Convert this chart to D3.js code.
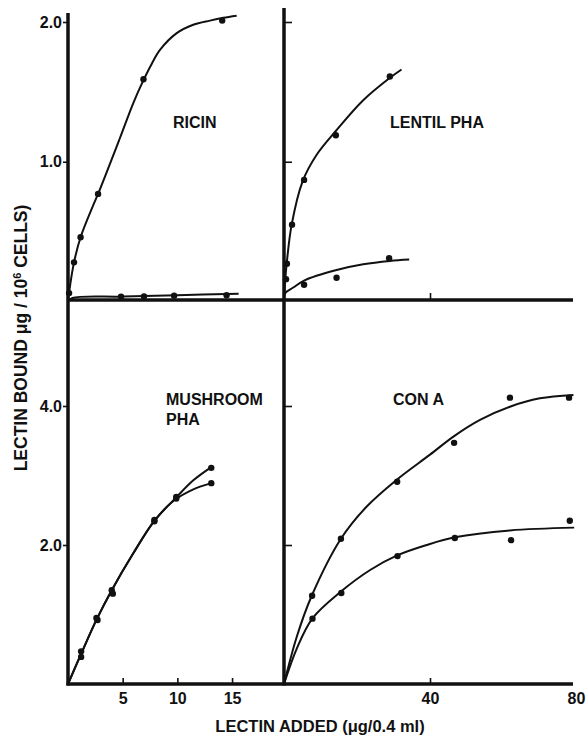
<!DOCTYPE html>
<html>
<head>
<meta charset="utf-8">
<script src="https://cdn.jsdelivr.net/npm/d3@7"></script>
<style>
    body { margin: 0; background: #fff; }
    text { font-family: "Liberation Sans", Arial, sans-serif; font-weight: bold; fill: #111; }
</style>
</head>
<body>
<div id="container"></div>
<script>
// ---- data ----
// RICIN (upper and lower series), x = lectin added (ug/0.4 ml), y = lectin bound
const ricinX = [0.1, 0.55, 1.15, 2.75, 6.9, 14.1]
const ricinY = [0.06, 0.28, 0.46, 0.77, 1.59, 2.01]
const ricinLowX = [4.85, 6.95, 9.7, 14.5]
const ricinLowY = [0.035, 0.037, 0.042, 0.045]
const ricinFitX = [0, 0.2, 0.55, 1.15, 2.31, 2.75, 4.75, 5.97, 6.88, 7.65, 8.41, 9.94, 11.45, 12.98, 14.2, 15.42]
const ricinFitY = [0, 0.12, 0.28, 0.46, 0.69, 0.77, 1.17, 1.42, 1.58, 1.70, 1.80, 1.92, 1.98, 2.01, 2.03, 2.045]
const ricinLowFitX = [0, 0.4, 5, 10, 15.6]
const ricinLowFitY = [0, 0.025, 0.035, 0.045, 0.055]

// LENTIL PHA
const lentilX = [0.8, 2.2, 5.5, 14.2, 29.0]
const lentilY = [0.27, 0.55, 0.87, 1.19, 1.61]
const lentilLowX = [0.55, 5.5, 14.4, 28.8]
const lentilLowY = [0.16, 0.12, 0.17, 0.31]
const lentilFitX = [0, 0.3, 0.73, 2.1, 5.1, 8.95, 14.2, 21.7, 29.0, 32.2]
const lentilFitY = [0, 0.14, 0.27, 0.55, 0.86, 1.05, 1.22, 1.44, 1.6, 1.66]
const lentilLowFitX = [0, 0.3, 2.55, 5.5, 14.4, 21.7, 29.0, 34.3]
const lentilLowFitY = [0, 0.06, 0.1, 0.15, 0.225, 0.266, 0.29, 0.3]

// MUSHROOM PHA
const mushX = [1.2, 2.6, 4.0, 7.9, 9.9, 13.1]
const mushY = [0.47, 0.95, 1.35, 2.36, 2.69, 3.11]
const mushLowX = [1.2, 2.7, 4.1, 7.9, 9.9, 13.1]
const mushLowY = [0.39, 0.92, 1.3, 2.34, 2.67, 2.89]
const mushFitX = [0, 1.19, 2.62, 4.0, 5.97, 7.86, 9.87, 11.46, 13.1]
const mushFitY = [0, 0.43, 0.93, 1.35, 1.88, 2.34, 2.68, 2.93, 3.12]
const mushLowFitX = [0, 1.19, 2.62, 4.0, 5.97, 7.86, 9.6, 11.46, 13.1]
const mushLowFitY = [0, 0.43, 0.93, 1.35, 1.88, 2.34, 2.63, 2.8, 2.89]

// CON A
const conaX = [7.7, 15.6, 31.0, 46.6, 61.9, 78.1]
const conaY = [1.27, 2.09, 2.91, 3.47, 4.12, 4.12]
const conaLowX = [7.8, 15.7, 31.1, 46.8, 62.2, 78.3]
const conaLowY = [0.94, 1.31, 1.84, 2.1, 2.07, 2.35]
const conaFitX = [0, 3.5, 7.6, 15.6, 22.6, 30.9, 40, 46.7, 53.7, 61.9, 70.1, 79.3]
const conaFitY = [0, 0.68, 1.27, 2.09, 2.55, 2.94, 3.30, 3.57, 3.80, 3.99, 4.11, 4.16]
const conaLowFitX = [0, 3.5, 7.8, 15.6, 23.6, 31, 39.1, 46.8, 61.9, 79.5]
const conaLowFitY = [0, 0.51, 0.945, 1.33, 1.64, 1.85, 2.0, 2.11, 2.21, 2.25]

// tick labels
const topYTicks = [1.0, 2.0]
const botYTicks = [2.0, 4.0]
const leftXTicks = [5, 10, 15]
const rightXTicks = [40, 80]

const width = 586
const height = 736

const svg = d3.select("#container").append("svg")
    .attr("width", width)
    .attr("height", height)
svg.append("rect").attr("width", width).attr("height", height).attr("fill", "#fff")

// scales: left column 0-20, right column 0-80, top rows 0-2, bottom rows 0-4
const xL = d3.scaleLinear().domain([0, 19.75]).range([68, 284])
const xR = d3.scaleLinear().domain([0, 80]).range([284, 576])
const yT = d3.scaleLinear().domain([0, 2]).range([301.5, 22])
const yB = d3.scaleLinear().domain([0, 4]).range([684, 406])

const zip = (xs, ys) => xs.map((x, i) => [x, ys[i]])

function drawPanel(x, y, series) {
    const g = svg.append("g")
    const line = d3.line()
        .x((d) => x(d[0]))
        .y((d) => y(d[1]))
        .curve(d3.curveCatmullRom.alpha(0.5))
    series.forEach((s) => {
        g.append("path")
            .datum(zip(s.fitX, s.fitY))
            .attr("d", line)
            .attr("fill", "none")
            .attr("stroke", "#111")
            .attr("stroke-width", 2)
        g.selectAll(null)
            .data(zip(s.x, s.y))
            .join("circle")
            .attr("cx", (d) => x(d[0]))
            .attr("cy", (d) => y(d[1]))
            .attr("r", 3.2)
            .attr("fill", "#111")
    })
}

drawPanel(xL, yT, [
    { x: ricinX, y: ricinY, fitX: ricinFitX, fitY: ricinFitY },
    { x: ricinLowX, y: ricinLowY, fitX: ricinLowFitX, fitY: ricinLowFitY },
])
drawPanel(xR, yT, [
    { x: lentilX, y: lentilY, fitX: lentilFitX, fitY: lentilFitY },
    { x: lentilLowX, y: lentilLowY, fitX: lentilLowFitX, fitY: lentilLowFitY },
])
drawPanel(xL, yB, [
    { x: mushX, y: mushY, fitX: mushFitX, fitY: mushFitY },
    { x: mushLowX, y: mushLowY, fitX: mushLowFitX, fitY: mushLowFitY },
])
drawPanel(xR, yB, [
    { x: conaX, y: conaY, fitX: conaFitX, fitY: conaFitY },
    { x: conaLowX, y: conaLowY, fitX: conaLowFitX, fitY: conaLowFitY },
])

// axes (ticks and labels via d3.axis)
const fmt = d3.format(".1f")
function styleAxis(g) {
    g.select(".domain").remove()
    g.selectAll("line").attr("stroke", "#111").attr("stroke-width", 1.6)
    g.selectAll("text").attr("font-size", 16).attr("fill", "#111")
        .attr("font-family", "'Liberation Sans', Arial, sans-serif")
        .attr("font-weight", "bold")
}

svg.append("g").attr("transform", `translate(${xL(0)},0)`)
    .call(d3.axisLeft(yT).tickValues(topYTicks).tickFormat(fmt).tickSize(5).tickPadding(1))
    .call(styleAxis)
svg.append("g").attr("transform", `translate(${xL(0)},0)`)
    .call(d3.axisLeft(yB).tickValues(botYTicks).tickFormat(fmt).tickSize(5).tickPadding(1))
    .call(styleAxis)
// inward ticks on the middle axis
svg.append("g").attr("transform", `translate(${xR(0)},0)`)
    .call(d3.axisRight(yT).tickValues(topYTicks).tickFormat("").tickSize(8))
    .call(styleAxis)
svg.append("g").attr("transform", `translate(${xR(0)},0)`)
    .call(d3.axisRight(yB).tickValues(botYTicks).tickFormat("").tickSize(8))
    .call(styleAxis)

svg.append("g").attr("transform", `translate(0,${yB(0)})`)
    .call(d3.axisBottom(xL).tickValues(leftXTicks).tickSize(-6).tickPadding(9))
    .call(styleAxis)
const rightAxis = svg.append("g").attr("transform", `translate(0,${yB(0)})`)
    .call(d3.axisBottom(xR).tickValues(rightXTicks).tickSize(-6).tickPadding(9))
    .call(styleAxis)
// the last tick mark falls past the end of the frame line
rightAxis.selectAll(".tick").filter((d) => d === 80).select("line").remove()
svg.append("g").attr("transform", `translate(0,${yT(0) - 1.5})`)
    .call(d3.axisBottom(xR).tickValues([40]).tickFormat("").tickSize(-7))
    .call(styleAxis)

// heavy frame lines
const axisRight = 573
const frame = [
    [xL(0), 13, xL(0), yB(0) + 1.5],
    [xR(0), 8, xR(0), yB(0) + 1.5],
    [xL(0), yT(0) - 1.5, axisRight, yT(0) - 1.5],
    [xL(0) - 1.5, yB(0), axisRight, yB(0)],
]
svg.selectAll(".frame")
    .data(frame)
    .join("line")
    .attr("class", "frame")
    .attr("x1", (d) => d[0]).attr("y1", (d) => d[1])
    .attr("x2", (d) => d[2]).attr("y2", (d) => d[3])
    .attr("stroke", "#111")
    .attr("stroke-width", 3.5)

// panel labels
const labels = [
    { text: "RICIN", x: 173, y: 128 },
    { text: "LENTIL PHA", x: 390, y: 128 },
    { text: "MUSHROOM", x: 166, y: 405 },
    { text: "PHA", x: 166, y: 425 },
    { text: "CON A", x: 393, y: 405 },
]
svg.selectAll(".lbl")
    .data(labels)
    .join("text")
    .attr("class", "lbl")
    .attr("x", (d) => d.x)
    .attr("y", (d) => d.y)
    .attr("font-size", 16)
    .text((d) => d.text)

// axis titles
svg.append("text")
    .attr("x", 320)
    .attr("y", 732)
    .attr("text-anchor", "middle")
    .attr("font-size", 16.5)
    .text("LECTIN ADDED (\u03bcg/0.4 ml)")

const yTitle = svg.append("text")
    .attr("transform", "translate(27,338) rotate(-90)")
    .attr("text-anchor", "middle")
    .attr("font-size", 17.5)
yTitle.append("tspan").text("LECTIN BOUND \u03bcg / 10")
yTitle.append("tspan").attr("dy", -6).attr("font-size", 11).text("6")
yTitle.append("tspan").attr("dy", 6).text(" CELLS)")
</script>
</body>
</html>
